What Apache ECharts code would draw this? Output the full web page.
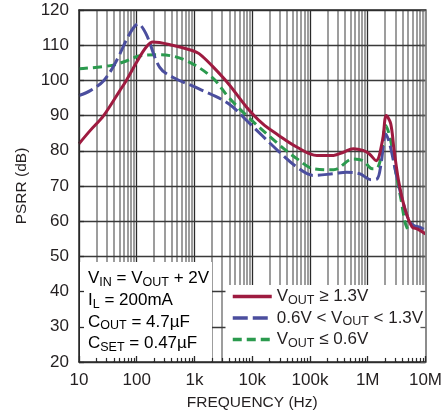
<!DOCTYPE html>
<html>
<head>
<meta charset="utf-8">
<script src="https://cdn.jsdelivr.net/npm/echarts@6/dist/echarts.min.js"></script>
<style>html,body{margin:0;padding:0;background:#fff}#c{width:445px;height:419px}</style>
</head>
<body>
<div id="c"></div>
<script>
// ---- data ----
const xTickLabels = ['10', '100', '1k', '10k', '100k', '1M', '10M'];
const decades = [10, 100, 1000, 10000, 100000, 1000000, 10000000];
const yTicks = [20, 30, 40, 50, 60, 70, 80, 90, 100, 110, 120];

const freqRed = [10, 15.7, 26.7, 51, 66, 100, 145, 190, 415, 910, 1200, 2000, 3900, 8000, 15100, 28000, 60000, 132000, 256000, 380000, 560000, 830000, 1070000, 1400000, 1800000, 2100000, 2500000, 2870000, 3500000, 4500000, 5900000, 7200000, 10000000];
const psrrRed = [82, 85.8, 90, 97.1, 100, 105.2, 109.4, 110.9, 110, 108.5, 107.6, 104.2, 99, 92.4, 87.7, 84.5, 81, 78.7, 78.7, 79.6, 80.6, 80.1, 79.1, 77.2, 82.9, 90, 87.7, 80, 70.6, 63, 58.3, 57.8, 56.4];

const freqBlue = [10, 15.7, 27, 45, 75, 106, 145, 250, 420, 1200, 3900, 8000, 28000, 60000, 115000, 256000, 430000, 720000, 1150000, 1450000, 1700000, 2050000, 2400000, 3100000, 4000000, 5200000, 6300000, 8000000, 10000000];
const psrrBlue = [95.7, 97.1, 100, 105.7, 113.2, 116, 113.2, 103.7, 100.9, 97.6, 93.4, 88.6, 80, 75.3, 73, 73.5, 73.9, 73.5, 71.8, 72, 76.3, 84.8, 82, 73.5, 65.9, 60.2, 58.8, 58.3, 57.4];

const freqGreen = [10, 35, 66, 113, 250, 700, 2000, 3900, 8000, 28000, 60000, 115000, 256000, 560000, 830000, 1200000, 1400000, 1700000, 2050000, 2500000, 3100000, 3800000, 4500000, 5200000];
const psrrGreen = [103.3, 104.2, 105.5, 107, 107.3, 105.7, 100.9, 95.2, 90, 82, 77.7, 74.9, 74.6, 77.7, 77.2, 74.9, 74.9, 78.2, 87.2, 82.9, 73.5, 65.9, 59.3, 56.9];

const seriesNames = ['VOUT ≥ 1.3V', '0.6V < VOUT < 1.3V', 'VOUT ≤ 0.6V'];
const legendRich = [
  '{n|V}{s|OUT}{n| ≥ 1.3V}',
  '{n|0.6V < V}{s|OUT}{n| < 1.3V}',
  '{n|V}{s|OUT}{n| ≤ 0.6V}'
];
const noteLines = [
  '{n|V}{s|IN}{n| = V}{s|OUT}{n| + 2V}',
  '{n|I}{s|L}{n| = 200mA}',
  '{n|C}{s|OUT}{n| = 4.7µF}',
  '{n|C}{s|SET}{n| = 0.47µF}'
];

// ---- styling ----
const FONT = "'Liberation Sans', Arial, sans-serif";
const TXT = '#231f20';
const RED = '#9e1b40', BLUE = '#4b4e9e', GREEN = '#2b9a4e';
const zip = (a, b) => a.map((v, i) => [v, b[i]]);

// gridline positions (axis decoration)
const gridMarks = [];
decades.forEach((d, i) => {
  gridMarks.push({ xAxis: d, lineStyle: { color: '#2a2a2a', width: 1.3, type: 'solid' } });
  if (i < decades.length - 1) {
    for (let k = 2; k <= 9; k++) gridMarks.push({ xAxis: d * k, lineStyle: { color: '#7c7c7c', width: 1.5, type: 'solid' } });
  }
});
yTicks.forEach(v => gridMarks.push({ yAxis: v, lineStyle: { color: '#3a3a3a', width: 1.3, type: 'solid' } }));

const minorTickMarks = [];
decades.slice(0, -1).forEach(d => {
  for (let k = 2; k <= 9; k++) {
    minorTickMarks.push([{ coord: [d * k, 20] }, { coord: [d * k, 21.15] }]);
  }
});

const rich = {
  n: { fontFamily: FONT, fontSize: 17, color: TXT, lineHeight: 21.7 },
  s: { fontFamily: FONT, fontSize: 12.5, color: TXT, padding: [8, 0, 0, 0], lineHeight: 21.7 }
};

const chart = echarts.init(document.getElementById('c'), null, { renderer: 'canvas' });
chart.setOption({
  animation: false,
  backgroundColor: '#fff',
  grid: { left: 79, top: 10, width: 351, height: 352, show: false },
  xAxis: [{
    type: 'log', logBase: 10, min: 10, max: 10000000, position: 'bottom', z: 7,
    axisLine: { show: true, onZero: false, lineStyle: { color: '#2a2a2a', width: 1.5 } },
    axisTick: { show: true, inside: true, length: 6, lineStyle: { color: '#2a2a2a', width: 1.3 } },
    splitLine: { show: false }, minorTick: { show: false },
    axisLabel: {
      fontFamily: FONT, fontSize: 17, color: TXT, margin: 10,
      formatter: v => xTickLabels[Math.round(Math.log10(v)) - 1]
    },
    name: 'FREQUENCY (Hz)', nameLocation: 'middle', nameGap: 33,
    nameTextStyle: { fontFamily: FONT, fontSize: 15.5, color: TXT }
  }, {
    type: 'log', logBase: 10, min: 10, max: 10000000, position: 'top', z: 7,
    axisLine: { show: true, onZero: false, lineStyle: { color: '#2a2a2a', width: 1.5 } },
    axisTick: { show: false }, axisLabel: { show: false }, splitLine: { show: false }
  }],
  yAxis: [{
    type: 'value', min: 20, max: 120, interval: 10, position: 'left', z: 7,
    axisLine: { show: true, onZero: false, lineStyle: { color: '#2a2a2a', width: 1.5 } },
    axisTick: { show: true, inside: true, length: 5, lineStyle: { color: '#2a2a2a', width: 1.3 } },
    splitLine: { show: false },
    axisLabel: { fontFamily: FONT, fontSize: 17, color: TXT, margin: 10 },
    name: 'PSRR (dB)', nameLocation: 'middle', nameGap: 49, nameRotate: 90,
    nameTextStyle: { fontFamily: FONT, fontSize: 15.5, color: TXT }
  }, {
    type: 'value', min: 20, max: 120, interval: 10, position: 'right', z: 7,
    axisLine: { show: true, onZero: false, lineStyle: { color: '#8c8c8c', width: 2 } },
    axisTick: { show: true, inside: true, length: 5, lineStyle: { color: '#555', width: 1.3 } },
    splitLine: { show: false }, axisLabel: { show: false }
  }],
  legend: {
    show: true, orient: 'vertical', left: 231, top: 286, z: 6,
    itemWidth: 39, itemHeight: 14, itemGap: 0.5, padding: 0,
    data: seriesNames,
    itemStyle: { opacity: 0 },
    lineStyle: { width: 3.5 },
    formatter: name => legendRich[seriesNames.indexOf(name)],
    textStyle: { rich: rich, padding: [0, 0, 0, 0] },
    selectedMode: false
  },
  graphic: [
    { type: 'rect', z: 5, shape: { x: 80, y: 262, width: 132, height: 99 }, style: { fill: '#fff' } },
    { type: 'rect', z: 5, shape: { x: 225.5, y: 285, width: 203, height: 76 }, style: { fill: '#fff' } },
    { type: 'text', z: 6, left: 88, top: 268, style: { text: noteLines.join('\n'), rich: rich, fontFamily: FONT } }
  ],
  series: [
    {
      type: 'line', name: 'grid', data: [], z: 1, silent: true,
      markLine: { z: 1, silent: true, symbol: ['none', 'none'], label: { show: false }, animation: false, data: gridMarks }
    },
    {
      type: 'line', name: 'ticks', data: [], z: 8, silent: true,
      markLine: { z: 8, silent: true, symbol: ['none', 'none'], label: { show: false }, animation: false,
        lineStyle: { color: '#2a2a2a', width: 1.2, type: 'solid' }, data: minorTickMarks }
    },
    {
      type: 'line', name: seriesNames[2], data: zip(freqGreen, psrrGreen), z: 3,
      symbol: 'none', smooth: 0.35, lineStyle: { color: GREEN, width: 3, type: [9, 5] }, itemStyle: { color: GREEN }
    },
    {
      type: 'line', name: seriesNames[1], data: zip(freqBlue, psrrBlue), z: 3,
      symbol: 'none', smooth: 0.35, lineStyle: { color: BLUE, width: 3, type: [15, 5] }, itemStyle: { color: BLUE }
    },
    {
      type: 'line', name: seriesNames[0], data: zip(freqRed, psrrRed), z: 4,
      symbol: 'none', smooth: 0.35, lineStyle: { color: RED, width: 3, type: 'solid' }, itemStyle: { color: RED }
    }
  ]
});
</script>
</body>
</html>
